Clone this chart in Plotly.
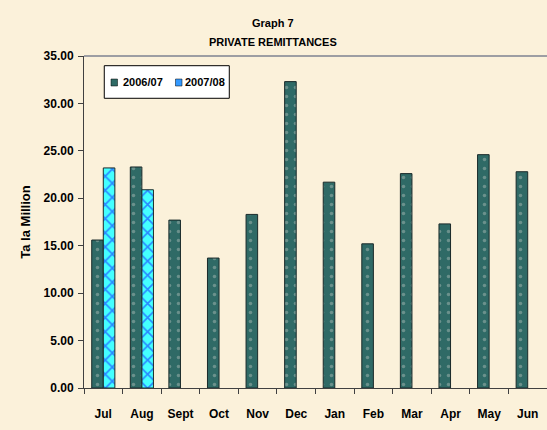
import plotly.graph_objects as go

months = ["Jul", "Aug", "Sept", "Oct", "Nov", "Dec", "Jan", "Feb", "Mar", "Apr", "May", "Jun"]
fy_2006_07 = [15.6, 23.3, 17.7, 13.7, 18.3, 32.3, 21.7, 15.2, 22.6, 17.3, 24.6, 22.8]
months_2007_08 = ["Jul", "Aug"]
fy_2007_08 = [23.2, 20.9]
series_names = ["2006/07", "2007/08"]
y_ticks = [0, 5, 10, 15, 20, 25, 30, 35]
y_tick_labels = ["%.2f" % v for v in y_ticks]

FONT = "Arial, 'Liberation Sans', sans-serif"
BG = "#FBF1DA"
C1 = "#2F6A66"
C2 = "#44FFFF"

fig = go.Figure()
fig.add_trace(go.Bar(
    x=months, y=fy_2006_07, name=series_names[0], offsetgroup="a",
    marker=dict(color=C1, line=dict(color="#1a2a2a", width=1),
                pattern=dict(shape=".", fgcolor="#A8B8B2", bgcolor=C1,
                             size=9, solidity=0.12)),
))
fig.add_trace(go.Bar(
    x=months_2007_08, y=fy_2007_08, name=series_names[1], offsetgroup="b",
    marker=dict(color=C2, line=dict(color="#1a2a2a", width=1),
                pattern=dict(shape="x", fgcolor="#1010FF", bgcolor=C2,
                             size=10, solidity=0.3)),
))

# compact legend box (Excel style)
legend_shapes = [
    dict(type="rect", xref="paper", yref="paper", x0=0.0438, x1=0.3138, y0=0.8726, y1=0.9708,
         fillcolor="#FFFFFF", line=dict(color="#000000", width=1), layer="above"),
    dict(type="rect", xref="paper", yref="paper", x0=0.0583, x1=0.0724, y0=0.9096, y1=0.9307,
         fillcolor=C1, line=dict(color="#000000", width=0.5), layer="above"),
    dict(type="rect", xref="paper", yref="paper", x0=0.1976, x1=0.2117, y0=0.9096, y1=0.9307,
         fillcolor="#3399FF", line=dict(color="#000000", width=0.5), layer="above"),
]
legend_annots = [
    dict(text=series_names[0], xref="paper", yref="paper", x=0.0790, y=0.9202,
         xanchor="left", yanchor="middle", showarrow=False,
         font=dict(family=FONT, size=11, weight="bold")),
    dict(text=series_names[1], xref="paper", yref="paper", x=0.2142, y=0.9202,
         xanchor="left", yanchor="middle", showarrow=False,
         font=dict(family=FONT, size=11, weight="bold")),
]

fig.update_layout(
    width=547, height=430,
    margin=dict(l=84, r=0, t=56, b=42),
    paper_bgcolor=BG, plot_bgcolor=BG,
    barmode="group", bargap=0.4, bargroupgap=0,
    font=dict(family=FONT, size=12, color="#000000", weight="bold"),
    showlegend=False,
    xaxis=dict(categoryorder="array", categoryarray=months,
               showline=True, linecolor="#404040", linewidth=1,
               ticks="outside", ticklen=5, tickcolor="#404040",
               tickson="boundaries", showgrid=False, zeroline=False,
               ticklabelstandoff=15,
               tickfont=dict(family=FONT, size=12, weight="bold")),
    yaxis=dict(range=[0, 35], tickvals=y_ticks, ticktext=y_tick_labels,
               showline=True, linecolor="#404040", linewidth=1,
               ticks="outside", ticklen=5, tickcolor="#404040",
               showgrid=False, zeroline=False, ticklabelstandoff=2,
               tickfont=dict(family=FONT, size=12, weight="bold"),
               title=dict(text="Ta la Million", standoff=10,
                          font=dict(family=FONT, size=13, weight="bold"))),
    shapes=[dict(type="line", xref="paper", yref="paper", x0=0, x1=1, y0=1, y1=1,
                 line=dict(color="#7E8291", width=1.5))] + legend_shapes,
    annotations=[
        dict(text="Graph 7", xref="paper", yref="paper", x=0.409, y=1.100,
             xanchor="center", yanchor="middle", showarrow=False,
             font=dict(family=FONT, size=11, weight="bold")),
        dict(text="PRIVATE REMITTANCES", xref="paper", yref="paper", x=0.409, y=1.043,
             xanchor="center", yanchor="middle", showarrow=False,
             font=dict(family=FONT, size=11, weight="bold")),
    ] + legend_annots,
)

fig.write_html("out.html", config={"displayModeBar": False},
               post_script="document.body.style.margin='0';document.body.style.background='#FBF1DA';")
